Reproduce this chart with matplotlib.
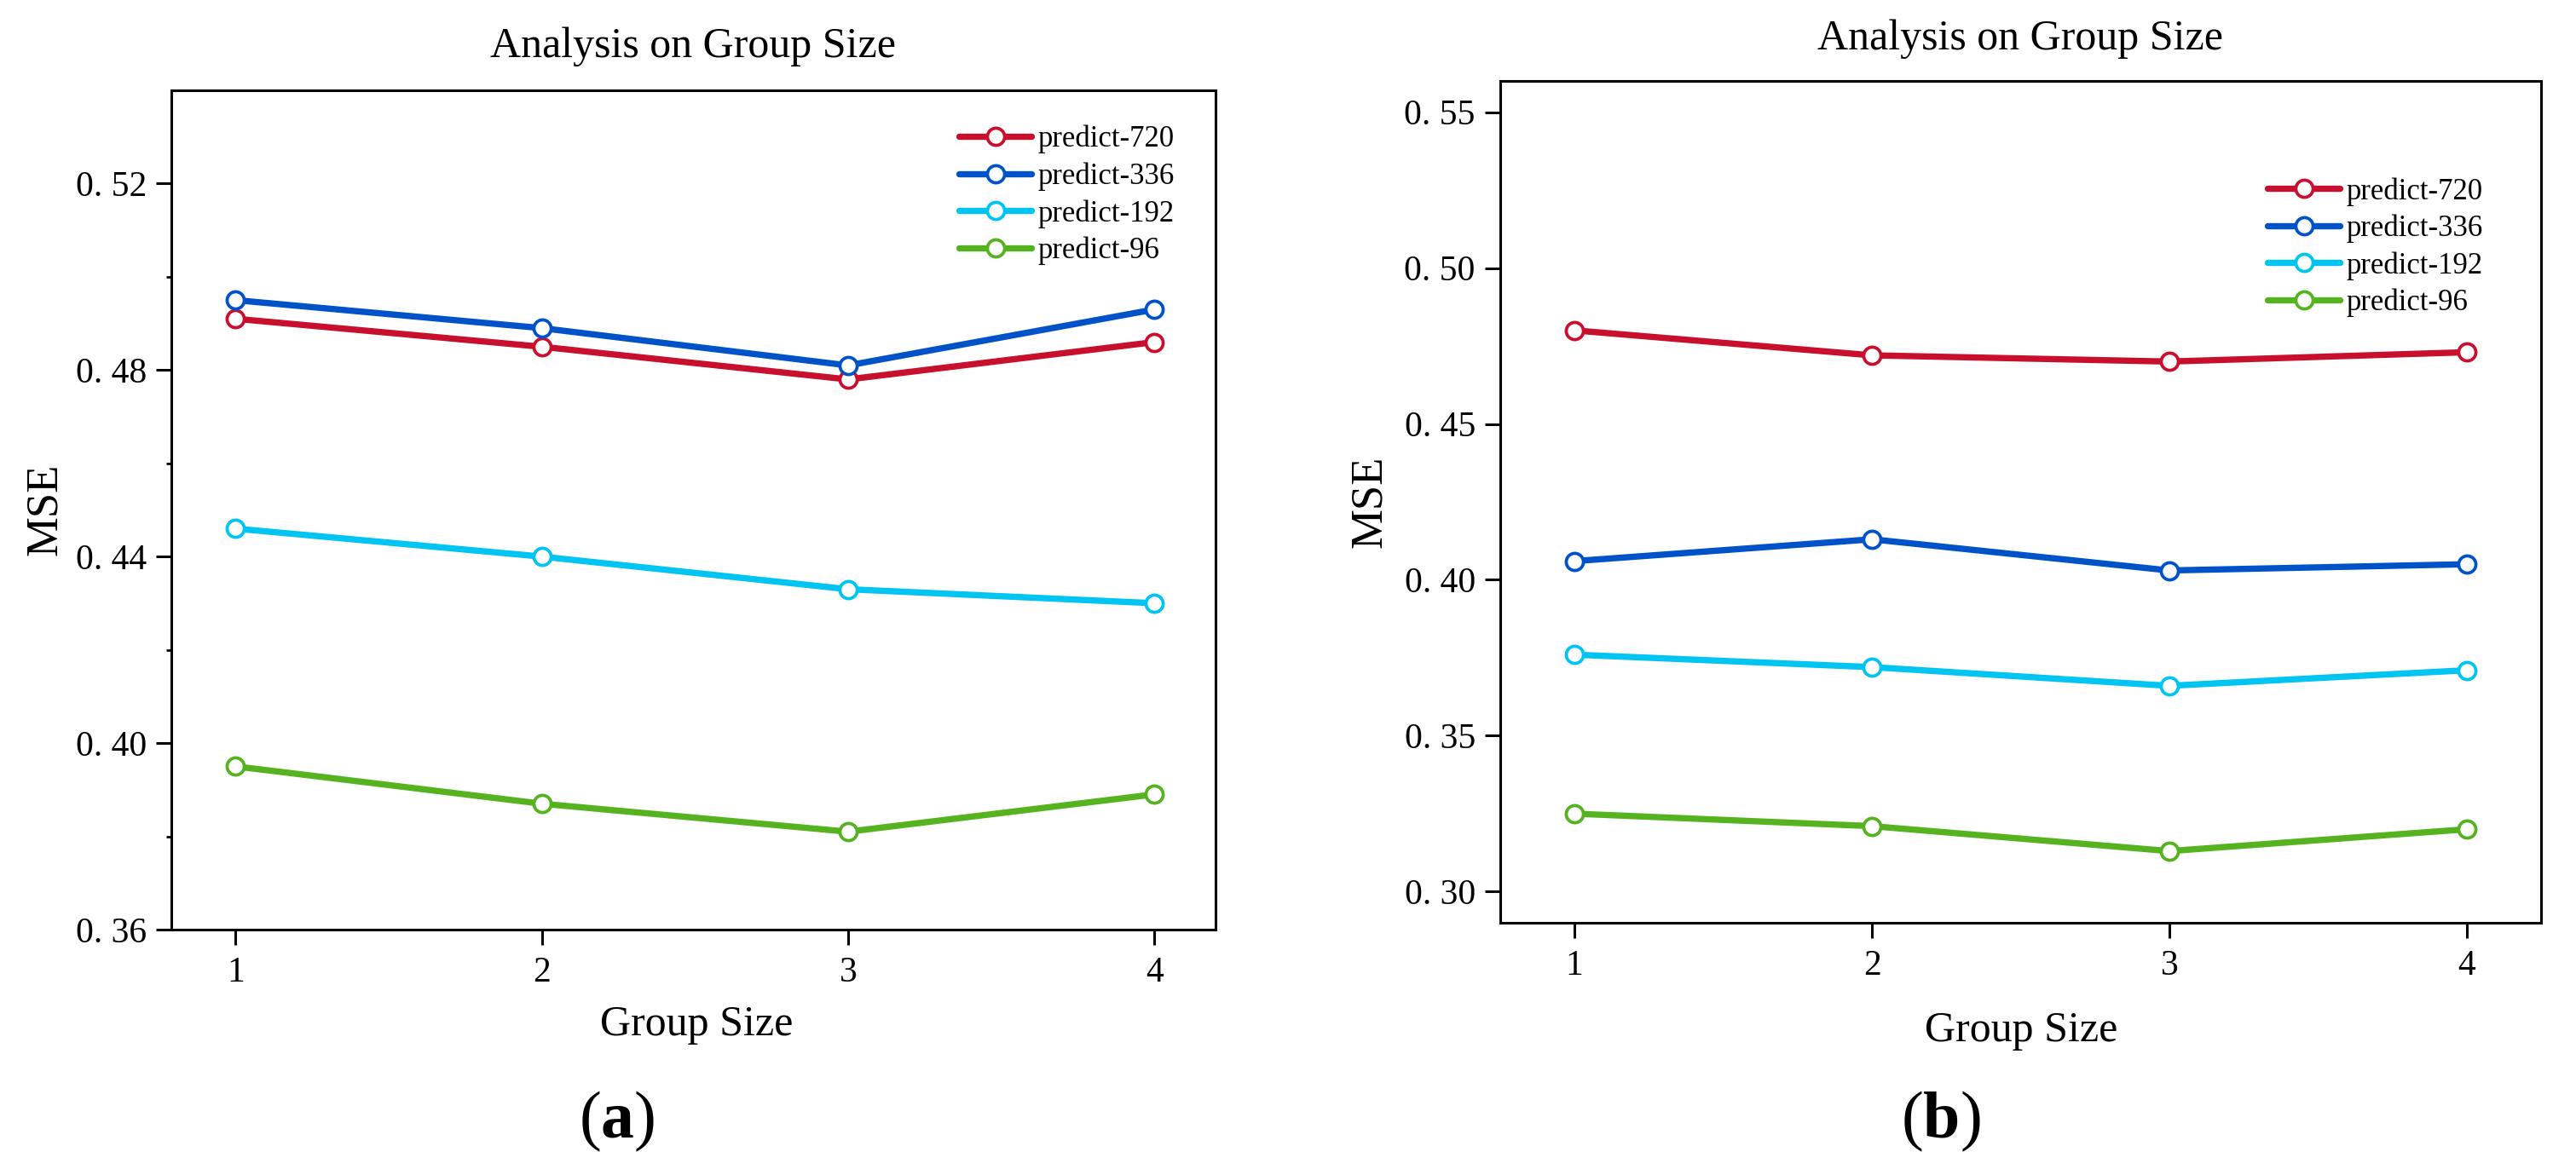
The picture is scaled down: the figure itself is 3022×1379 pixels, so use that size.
import numpy as np
import matplotlib
matplotlib.use("Agg")
import matplotlib.pyplot as plt
from matplotlib.ticker import FixedLocator

plt.rcParams['font.family'] = ['Liberation Serif', 'DejaVu Serif']
plt.rcParams['mathtext.fontset'] = 'custom'
plt.rcParams['mathtext.bf'] = 'Liberation Serif:bold'
plt.rcParams['mathtext.rm'] = 'Liberation Serif'

group_size = [1, 2, 3, 4]
labels = ["predict-720", "predict-336", "predict-192", "predict-96"]
colors = ["#C8102E", "#0052C8", "#00C4F2", "#55B31F"]

# panel (a)
mse_a_720 = [0.491, 0.485, 0.478, 0.486]
mse_a_336 = [0.495, 0.489, 0.481, 0.493]
mse_a_192 = [0.446, 0.440, 0.433, 0.430]
mse_a_96 = [0.395, 0.387, 0.381, 0.389]

# panel (b)
mse_b_720 = [0.480, 0.472, 0.470, 0.473]
mse_b_336 = [0.406, 0.413, 0.403, 0.405]
mse_b_192 = [0.376, 0.372, 0.366, 0.371]
mse_b_96 = [0.325, 0.321, 0.313, 0.320]

yticks_a = [0.36, 0.40, 0.44, 0.48, 0.52]
yticks_b = [0.30, 0.35, 0.40, 0.45, 0.50, 0.55]

W, H = 3022, 1379
fig = plt.figure(figsize=(W / 100, H / 100), dpi=100)


def fx(px):
    return px / W


def fy(py):
    return 1 - py / H


def draw(ax, series, yticks, ylim, xlim, minor):
    for vals, lab, c in zip(series, labels, colors):
        ax.plot(group_size, vals, color=c, lw=5.3, marker='o', ms=14.5,
                mfc='white', mec=c, mew=2.7, label=lab,
                solid_joinstyle='round', solid_capstyle='round')
    ax.set_xlim(*xlim)
    ax.set_ylim(*ylim)
    ax.set_xticks(group_size)
    ax.set_xticklabels([str(g) for g in group_size])
    ax.set_yticks(yticks)
    ax.set_yticklabels([f"{v:.2f}".replace(".", ". ") for v in yticks])
    if minor:
        ax.yaxis.set_minor_locator(FixedLocator([0.38, 0.42, 0.46, 0.50]))
        ax.tick_params(axis='y', which='minor', length=4, width=2, direction='out')
    ax.tick_params(axis='both', which='major', length=13, width=2.2,
                   direction='out', labelsize=30)
    ax.tick_params(axis='y', pad=8)
    ax.tick_params(axis='x', pad=10)
    for s in ax.spines.values():
        s.set_linewidth(2.2)


ax1 = fig.add_axes([fx(201), fy(1091), fx(1426 - 201), (1091 - 106) / H])
draw(ax1, [mse_a_720, mse_a_336, mse_a_192, mse_a_96], yticks_a,
     (0.36, 0.54), (0.79, 4.2), True)
ax2 = fig.add_axes([fx(1760), fy(1083), fx(2981 - 1760), (1083 - 95) / H])
draw(ax2, [mse_b_720, mse_b_336, mse_b_192, mse_b_96], yticks_b,
     (0.29, 0.56), (0.75, 4.25), False)

leg_kw = dict(frameon=False, fontsize=25, handlelength=2.45, handletextpad=0.2,
              labelspacing=0.29, borderpad=0, borderaxespad=0, loc='upper left',
              bbox_transform=fig.transFigure)
ax1.legend(bbox_to_anchor=(fx(1125), fy(147)), **leg_kw)
ax2.legend(bbox_to_anchor=(fx(2660), fy(208)), **leg_kw)

fig.text(fx(813), fy(55), "Analysis on Group Size", fontsize=36, ha='center', va='center')
fig.text(fx(2370), fy(46), "Analysis on Group Size", fontsize=36, ha='center', va='center')
fig.text(fx(817), fy(1203), "Group Size", fontsize=36, ha='center', va='center')
fig.text(fx(2371), fy(1210), "Group Size", fontsize=36, ha='center', va='center')
fig.text(fx(53), fy(598), "MSE", fontsize=38, rotation=90, ha='center', va='center')
fig.text(fx(1607), fy(589), "MSE", fontsize=38, rotation=90, ha='center', va='center')
fig.text(fx(724), fy(1316), r"($\mathbf{a}$)", fontsize=56, ha='center', va='center')
fig.text(fx(2277), fy(1316), r"($\mathbf{b}$)", fontsize=56, ha='center', va='center')

fig.savefig("out.png", dpi=100)
